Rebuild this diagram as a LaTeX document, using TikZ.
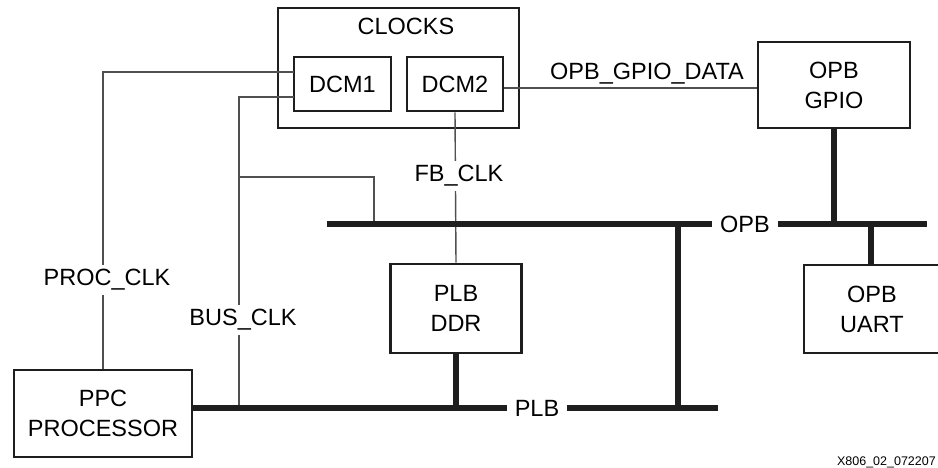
\documentclass[tikz,border=0pt]{standalone}
\usepackage{fontspec}
\setmainfont{Liberation Sans}
\definecolor{ink}{HTML}{1E1E1E}
\definecolor{wire}{HTML}{505050}
\begin{document}
\begin{tikzpicture}[x=1pt,y=-1pt,
  box/.style={draw=ink,line width=2.6pt,inner sep=0pt,align=center,font=\fontsize{23.5}{30}\selectfont},
  txt/.style={inner sep=0pt,align=center,font=\fontsize{23.5}{30}\selectfont},
  lbl/.style={fill=white,inner xsep=2pt,inner ysep=4pt,font=\fontsize{23.5}{30}\selectfont},
  buslbl/.style={fill=white,inner xsep=8pt,inner ysep=6pt,font=\fontsize{23.5}{30}\selectfont},
  thin/.style={draw=wire,line width=1.4pt},
  bus/.style={draw=ink,line width=5.5pt}]
\useasboundingbox (0,0) rectangle (938,468);
\clip (0,0) rectangle (938,468);
% boxes
\node[box,minimum width=241pt,minimum height=120pt] (CLK) at (398.5,68) {};
\node[txt] (CLKT) at (406,26) {CLOCKS};
\node[box,minimum width=97pt,minimum height=54pt] (DCM1) at (342.5,84) {DCM1};
\node[box,minimum width=96pt,minimum height=54pt] (DCM2) at (455,84) {DCM2};
\node[box,minimum width=152pt,minimum height=86pt] (GPIO) at (834,85) {OPB\\GPIO};
\node[box,minimum width=178pt,minimum height=87pt] (PPC) at (103,413.5) {PPC\\PROCESSOR};
\node[box,minimum width=131pt,minimum height=89pt] (DDR) at (456,308.5) {PLB\\DDR};
\node[box,minimum width=140pt,minimum height=88pt,text width=136pt] (UART) at (874,309) {\hspace*{-4pt}OPB\\\hspace*{-4pt}UART};
% coordinates
\coordinate (pc1) at (294,72);
\coordinate (bc1) at (294,97);
\coordinate (bcb) at (239,408);
\coordinate (br1) at (239,177);
\coordinate (br2) at (374,224);
\coordinate (opbL) at (327,224);
\coordinate (opbR) at (927,224);
\coordinate (plbR) at (718,408);
\coordinate (vt) at (678,224);
\coordinate (vb) at (678,408);
\coordinate (gb) at (834,224);
\coordinate (ut) at (871,224);
\coordinate (ddrb) at (456,408);
% thin clock wires
\draw[thin] (pc1) -| (PPC.north);
\draw[thin] (bc1) -| (bcb);
\draw[thin] (br1) -| (br2);
\draw[thin] (DCM2.south) -- (DDR.north);
\draw[thin] (DCM2.east |- 0,88) -- (GPIO.west |- 0,88);
% buses
\draw[bus] (opbL) -- (opbR);
\draw[bus] (PPC.east |- 0,408) -- (plbR);
\draw[bus] (vt) -- (vb);
\draw[bus] (GPIO.south) -- (gb);
\draw[bus] (ut) -- (ut |- UART.north);
\draw[bus] (DDR.south) -- (ddrb);
% labels
\node[lbl] (lproc) at (107,280) {PROC\_CLK};
\node[lbl] (lbus) at (243,320) {BUS\_CLK};
\node[lbl] (lfb) at (459,176) {FB\_CLK};
\node[txt] (lgd) at (647,74) {OPB\_GPIO\_DATA};
\node[buslbl] (lopb) at (745,224) {OPB};
\node[buslbl] (lplb) at (537,408) {PLB};
\node[anchor=east,inner sep=0pt,font=\fontsize{12.5}{14}\selectfont] (fig) at (936,462) {X806\_02\_072207};
\end{tikzpicture}
\end{document}
